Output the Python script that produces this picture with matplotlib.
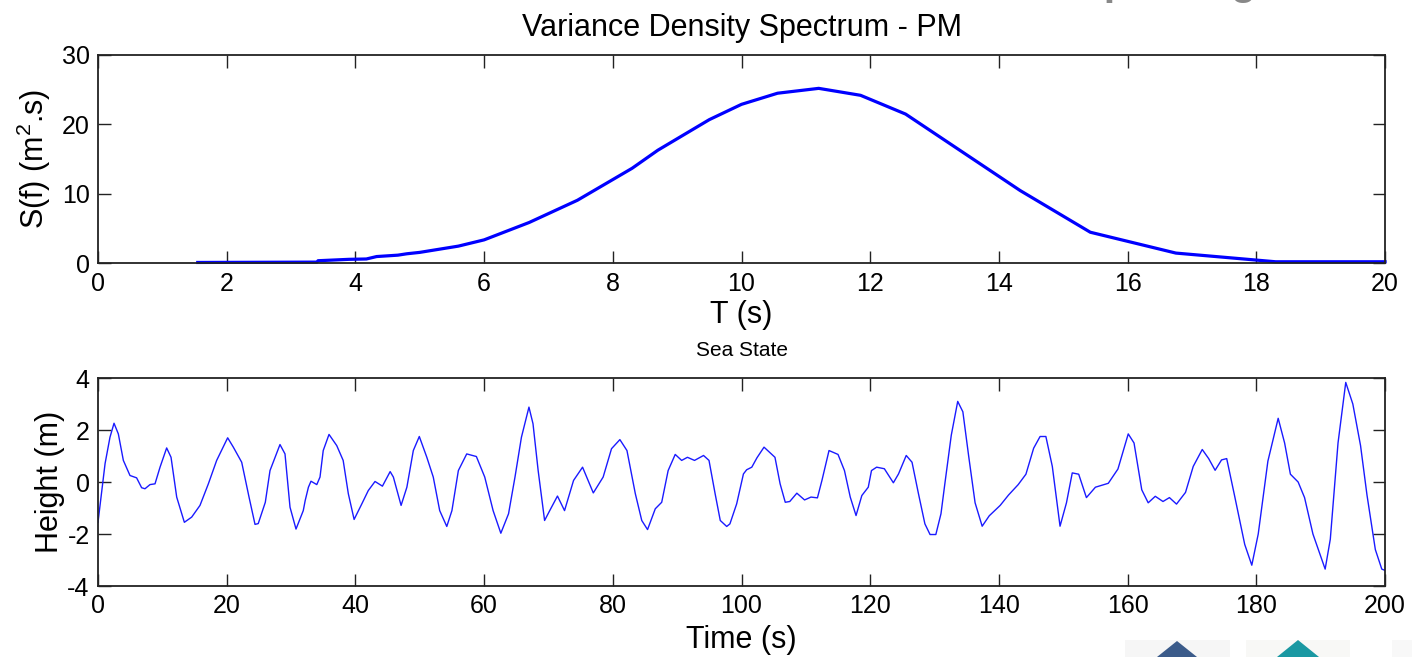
import matplotlib
matplotlib.use("Agg")
import matplotlib.pyplot as plt
from matplotlib.patches import Polygon, Rectangle

plt.rcParams['font.family'] = ['Liberation Sans', 'DejaVu Sans']
plt.rcParams['mathtext.default'] = 'regular'
plt.rcParams['axes.unicode_minus'] = False

# --- Spectrum (period vs variance density) ---
period_s = [1.55, 3.4, 3.42, 3.9, 4.17, 4.33, 4.66, 4.8, 5.0, 5.6, 6.0, 6.7, 7.45,
            8.3, 8.7, 9.5, 10.0, 10.56, 11.2, 11.85, 12.55, 14.33, 15.42, 16.75,
            18.3, 20.0]
spec_density = [0.15, 0.2, 0.4, 0.6, 0.65, 1.0, 1.2, 1.4, 1.6, 2.5, 3.4, 5.9, 9.1,
                13.7, 16.3, 20.7, 22.9, 24.5, 25.2, 24.2, 21.5, 10.5, 4.5, 1.5,
                0.25, 0.25]

# --- Sea state time series ---
time_s = [0, 1.1, 1.86, 2.49, 3.16, 3.94, 4.97, 6.0, 6.78, 7.3, 8.08, 8.86, 9.64,
          10.67, 11.35, 12.23, 13.42, 14.56, 15.85, 17.15, 18.44, 20.15, 21.03,
          22.33, 23.47, 24.4, 24.9, 26.0, 26.73, 28.28, 29.06, 29.84, 30.77, 31.9,
          32.2, 32.7, 33.1, 34.0, 34.5, 35.0, 35.9, 37.1, 38.1, 38.9, 39.8, 41.0,
          42.0, 43.05, 44.2, 45.4, 45.9, 47.1, 48.0, 49.0, 49.93, 51.1, 52.1, 53.1,
          54.2, 55.0, 56.0, 57.3, 58.8, 60.1, 61.4, 62.6, 63.8, 64.8, 65.8, 66.97,
          67.6, 68.4, 69.4, 70.2, 71.4, 72.5, 73.9, 75.3, 76.97, 78.5, 79.8, 81.1,
          82.2, 83.5, 84.5, 85.4, 86.6, 87.6, 88.6, 89.7, 90.7, 91.6, 92.7, 94.1,
          94.95, 95.9, 96.7, 97.7, 98.2, 99.25, 100.3, 100.8, 101.6, 102.4, 103.5,
          105.2, 106.0, 106.8, 107.5, 108.6, 109.8, 110.8, 111.8, 112.5, 113.6,
          115.0, 116.0, 116.9, 117.8, 118.7, 119.7, 120.2, 121.0, 122.2, 123.6,
          124.4, 125.6, 126.5, 127.5, 128.5, 129.3, 130.2, 131.0, 131.6, 132.6,
          133.6, 134.4, 135.3, 136.3, 137.4, 138.5, 140.2, 141.5, 143.0, 144.2,
          145.4, 146.4, 147.3, 148.3, 149.5, 150.5, 151.4, 152.4, 153.6, 155.0,
          157.0, 158.5, 160.1, 161.0, 162.2, 163.2, 164.3, 165.5, 166.5, 167.6,
          169.0, 170.2, 171.6, 172.6, 173.6, 174.6, 175.4, 176.6, 178.2, 179.3,
          180.3, 181.8, 183.4, 184.4, 185.3, 186.5, 187.5, 188.8, 190.7, 191.5,
          192.7, 193.9, 195.0, 196.2, 197.2, 198.5, 199.5, 200.0]
height_m = [-1.55, 0.71, 1.72, 2.26, 1.85, 0.83, 0.25, 0.16, -0.22, -0.26, -0.1,
            -0.07, 0.57, 1.31, 0.95, -0.58, -1.55, -1.35, -0.9, -0.07, 0.83, 1.7,
            1.34, 0.76, -0.58, -1.63, -1.6, -0.78, 0.44, 1.44, 1.08, -0.97, -1.81,
            -1.1, -0.71, -0.2, 0.03, -0.1, 0.19, 1.21, 1.83, 1.4, 0.83, -0.45,
            -1.44, -0.84, -0.33, 0.02, -0.16, 0.4, 0.19, -0.9, -0.2, 1.21, 1.75,
            0.95, 0.19, -1.1, -1.71, -1.1, 0.44, 1.08, 0.98, 0.19, -1.1, -1.97,
            -1.22, 0.19, 1.72, 2.88, 2.24, 0.44, -1.48, -1.1, -0.54, -1.1, 0.06,
            0.57, -0.42, 0.19, 1.28, 1.63, 1.21, -0.45, -1.48, -1.83, -1.03, -0.78,
            0.44, 1.06, 0.83, 0.95, 0.83, 1.02, 0.83, -0.45, -1.48, -1.71, -1.61,
            -0.84, 0.31, 0.47, 0.57, 0.93, 1.34, 0.95, -0.07, -0.78, -0.75, -0.43,
            -0.69, -0.58, -0.61, 0.06, 1.21, 1.06, 0.44, -0.58, -1.29, -0.52, -0.2,
            0.44, 0.57, 0.51, -0.03, 0.31, 1.02, 0.76, -0.45, -1.61, -2.02, -2.02,
            -1.22, -0.07, 1.8, 3.1, 2.7, 1.0, -0.8, -1.7, -1.3, -0.9, -0.5, -0.1,
            0.3, 1.3, 1.75, 1.75, 0.6, -1.7, -0.8, 0.35, 0.3, -0.6, -0.2, -0.05,
            0.5, 1.85, 1.5, -0.3, -0.8, -0.55, -0.75, -0.6, -0.85, -0.4, 0.6, 1.25,
            0.9, 0.45, 0.85, 0.9, -0.5, -2.4, -3.2, -2.0, 0.8, 2.45, 1.5, 0.3, 0.0,
            -0.6, -2.0, -3.35, -2.2, 1.5, 3.83, 3.0, 1.4, -0.5, -2.6, -3.35, -3.4]

W, H = 1412, 657
fig = plt.figure(figsize=(W / 100, H / 100), dpi=100)
fig.patch.set_facecolor('white')


def style_axes(ax):
    ax.tick_params(direction='in', length=9, width=1, top=True, right=True,
                   labelsize=18, pad=6, color='#222222')
    for sp in ax.spines.values():
        sp.set_linewidth(1.3)
        sp.set_color('#222222')


ax1 = fig.add_axes([98 / W, 1 - 263.5 / H, 1287 / W, 208.5 / H])
ax1.plot(period_s, spec_density, color='#0000ff', lw=2.3, clip_on=False)
ax1.set_xlim(0, 20)
ax1.set_ylim(0, 30)
ax1.set_xticks(range(0, 21, 2))
ax1.set_yticks([0, 10, 20, 30])
ax1.set_title('Variance Density Spectrum - PM', fontsize=22, pad=14)
ax1.set_xlabel('T (s)', fontsize=22, labelpad=3)
ax1.set_ylabel('S(f) (m$^2$.s)', fontsize=22, labelpad=6)
style_axes(ax1)

ax2 = fig.add_axes([98 / W, 1 - 586 / H, 1287 / W, 208 / H])
ax2.plot(time_s, height_m, color='#1a1aff', lw=1.0)
ax2.set_xlim(0, 200)
ax2.set_ylim(-4, 4)
ax2.set_xticks(range(0, 201, 20))
ax2.set_yticks([-4, -2, 0, 2, 4])
ax2.set_title('Sea State', fontsize=15, pad=16)
ax2.set_xlabel('Time (s)', fontsize=22, labelpad=5)
ax2.set_ylabel('Height (m)', fontsize=22, labelpad=2)
style_axes(ax2)

# slide title cut off by the top edge (only descenders visible)
fig.text(1077 / W, 1 + 6 / H, 'Spectrogram', fontsize=30, fontweight='bold',
         color='#888888', ha='left', va='baseline')

# logo fragments at the bottom right corner
fig.patches.append(Rectangle((1125 / W, 0), 105 / W, 17 / H, transform=fig.transFigure,
                             facecolor='#f6f6f6', edgecolor='none'))
fig.patches.append(Rectangle((1246 / W, 0), 104 / W, 17 / H, transform=fig.transFigure,
                             facecolor='#f8f8f6', edgecolor='none'))
fig.patches.append(Rectangle((1392 / W, 0), 20 / W, 17 / H, transform=fig.transFigure,
                             facecolor='#f8f8f8', edgecolor='none'))
fig.patches.append(Polygon([(1157 / W, 0), (1177 / W, 16 / H), (1197 / W, 0)],
                           transform=fig.transFigure, facecolor='#3b5b8a',
                           edgecolor='none'))
fig.patches.append(Polygon([(1277 / W, 0), (1298 / W, 17 / H), (1319 / W, 0)],
                           transform=fig.transFigure, facecolor='#1a98a2',
                           edgecolor='none'))

fig.savefig('out.png', dpi=100)
